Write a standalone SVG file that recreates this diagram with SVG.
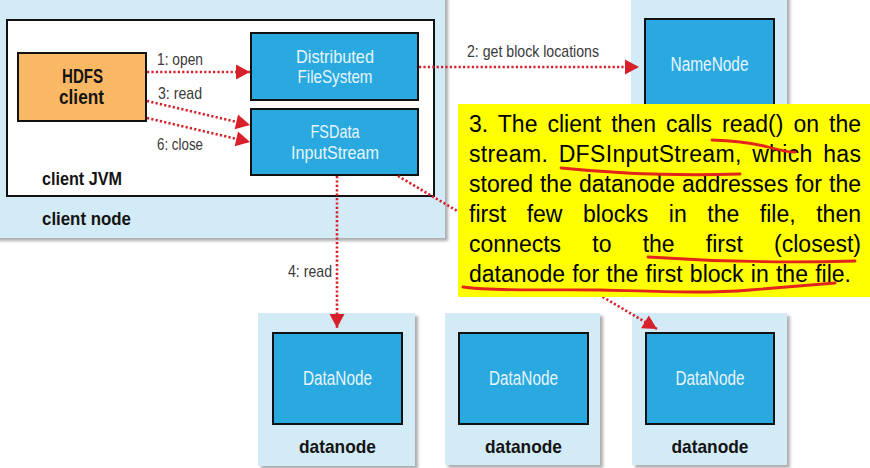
<svg xmlns="http://www.w3.org/2000/svg" width="870" height="468" viewBox="0 0 870 468">
<defs>
  <filter id="sh" x="-10%" y="-10%" width="130%" height="130%">
    <feDropShadow dx="3" dy="3" stdDeviation="1.8" flood-color="#777" flood-opacity="0.6"/>
  </filter>
  <marker id="ah" markerUnits="userSpaceOnUse" markerWidth="16" markerHeight="16" viewBox="0 0 16 16" refX="15" refY="8" orient="auto">
    <path d="M1,0.5 L15,8 L1,15.5 Z" fill="#D7202A"/>
  </marker>
  <style>
    .outer{fill:#D3EBF7;filter:url(#sh)}
    .blue{fill:#29A9E0;stroke:#111;stroke-width:2}
    .wl{font-family:"Liberation Sans",Arial,sans-serif;font-size:19px;fill:#E8F5FC;text-anchor:middle}
    .bl{font-family:"Liberation Sans",Arial,sans-serif;font-size:19px;font-weight:bold;fill:#141414}
    .lab{font-family:"Liberation Sans",Arial,sans-serif;font-size:17px;fill:#3a3a3a}
    .conn{stroke:#D7202A;stroke-width:2.6;stroke-dasharray:2.2 2.2;fill:none;marker-end:url(#ah)}
    .note{font-family:"Liberation Sans",Arial,sans-serif;font-size:23px;fill:#000}
    .ul{stroke:#E3241C;stroke-width:2.8;fill:none;stroke-linecap:round}
  </style>
</defs>
<rect width="870" height="468" fill="#fff"/>

<g id="client-node">
  <rect class="outer" x="-10" y="-10" width="455" height="248"/>
  <text class="bl" x="42" y="225" textLength="89" lengthAdjust="spacingAndGlyphs">client node</text>
</g>
<g id="client-jvm">
  <rect x="7" y="20" width="427" height="176" fill="#fff" stroke="#111" stroke-width="2"/>
  <text class="bl" x="42" y="185" textLength="80" lengthAdjust="spacingAndGlyphs">client JVM</text>
</g>
<g id="hdfs-client">
  <rect x="18" y="53" width="128" height="68" fill="#FBB864" stroke="#111" stroke-width="2"/>
  <text class="bl" style="font-size:20px" x="62" y="83" textLength="41" lengthAdjust="spacingAndGlyphs">HDFS</text>
  <text class="bl" style="font-size:20px" x="59" y="104" textLength="45" lengthAdjust="spacingAndGlyphs">client</text>
</g>
<g id="distributed-filesystem">
  <rect class="blue" x="251" y="33" width="167" height="67"/>
  <text class="wl" x="335" y="63" textLength="78" lengthAdjust="spacingAndGlyphs">Distributed</text>
  <text class="wl" x="335" y="83" textLength="75" lengthAdjust="spacingAndGlyphs">FileSystem</text>
</g>
<g id="fsdata-inputstream">
  <rect class="blue" x="251" y="109" width="167" height="66"/>
  <text class="wl" x="335" y="138" textLength="49" lengthAdjust="spacingAndGlyphs">FSData</text>
  <text class="wl" x="335" y="159" textLength="88" lengthAdjust="spacingAndGlyphs">InputStream</text>
</g>

<g id="namenode">
  <rect class="outer" x="631" y="-10" width="156" height="160"/>
  <rect class="blue" x="645" y="19" width="129" height="120"/>
  <text class="wl" style="font-size:20.5px" x="709.5" y="71" textLength="78" lengthAdjust="spacingAndGlyphs">NameNode</text>
</g>

<g id="datanode1">
  <rect class="outer" x="258" y="313" width="157" height="153"/>
  <rect class="blue" x="273" y="333" width="129" height="91"/>
  <text class="wl" style="font-size:20.5px" x="337.5" y="385" textLength="69" lengthAdjust="spacingAndGlyphs">DataNode</text>
  <text class="bl" x="337.5" y="453" text-anchor="middle" textLength="77" lengthAdjust="spacingAndGlyphs">datanode</text>
</g>
<g id="datanode2">
  <rect class="outer" x="445" y="313" width="155" height="152"/>
  <rect class="blue" x="459" y="333" width="129" height="91"/>
  <text class="wl" style="font-size:20.5px" x="523.5" y="385" textLength="69" lengthAdjust="spacingAndGlyphs">DataNode</text>
  <text class="bl" x="523.5" y="453" text-anchor="middle" textLength="77" lengthAdjust="spacingAndGlyphs">datanode</text>
</g>
<g id="datanode3">
  <rect class="outer" x="632" y="313" width="155" height="152"/>
  <rect class="blue" x="646" y="333" width="128" height="91"/>
  <text class="wl" style="font-size:20.5px" x="710" y="385" textLength="69" lengthAdjust="spacingAndGlyphs">DataNode</text>
  <text class="bl" x="710" y="453" text-anchor="middle" textLength="77" lengthAdjust="spacingAndGlyphs">datanode</text>
</g>

<g id="connectors">
  <path class="conn" d="M147,72 L250,72"/>
  <path class="conn" d="M147,101 L250,125"/>
  <path class="conn" d="M147,118 L250,142"/>
  <path class="conn" d="M419,67 L639,67"/>
  <path class="conn" d="M337,176 L337,328"/>
  <path class="conn" d="M398,176 L657,329"/>
  <text class="lab" x="157" y="65" textLength="46" lengthAdjust="spacingAndGlyphs">1: open</text>
  <text class="lab" x="158" y="99" textLength="44" lengthAdjust="spacingAndGlyphs">3: read</text>
  <text class="lab" x="157" y="150" textLength="46" lengthAdjust="spacingAndGlyphs">6: close</text>
  <text class="lab" x="467" y="57" textLength="132" lengthAdjust="spacingAndGlyphs">2: get block locations</text>
  <text class="lab" x="288" y="277" textLength="44" lengthAdjust="spacingAndGlyphs">4: read</text>
</g>

<g id="note">
  <rect x="458" y="104" width="412" height="193" fill="#FFFF00"/>
  <text class="note" x="469" y="132" style="word-spacing:3.6px" textLength="392" lengthAdjust="spacing">3. The client then calls read() on the</text>
  <text class="note" x="469" y="162" style="word-spacing:3.7px" textLength="392" lengthAdjust="spacing">stream. DFSInputStream, which has</text>
  <text class="note" x="469" y="192" style="word-spacing:0.6px" textLength="392" lengthAdjust="spacing">stored the datanode addresses for the</text>
  <text class="note" x="469" y="222" style="word-spacing:14.2px" textLength="392" lengthAdjust="spacing">first few blocks in the file, then</text>
  <text class="note" x="469" y="252" style="word-spacing:24.8px" textLength="392" lengthAdjust="spacing">connects to the first (closest)</text>
  <text class="note" x="469" y="282" style="word-spacing:0.8px" textLength="382" lengthAdjust="spacing">datanode for the first block in the file.</text>
  <path class="ul" d="M712,140 Q745,141 768,147 T795,152"/>
  <path class="ul" d="M561,168 Q650,177 740,174"/>
  <path class="ul" d="M648,257 Q750,264 855,261"/>
  <path class="ul" d="M463,287 C500,292 545,289 600,290 S700,294 750,290 S820,284 835,283"/>
</g>
</svg>
